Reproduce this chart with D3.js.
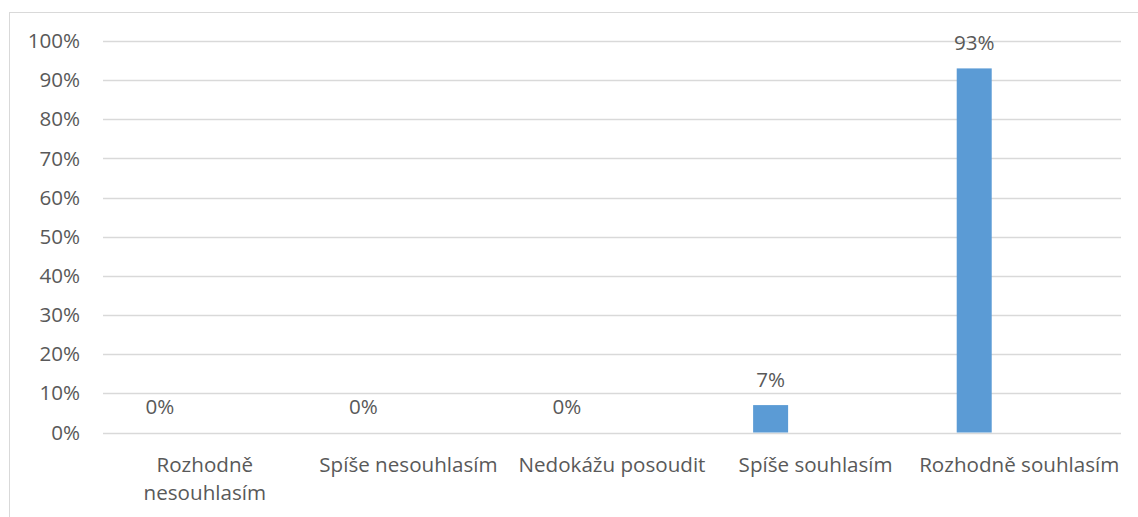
<!DOCTYPE html>
<html>
<head>
<meta charset="utf-8">
<script src="https://cdn.jsdelivr.net/npm/d3@7"></script>
<style>
  body { margin: 0; background: #fff; }
  text { font-family: "Open Sans", "Liberation Sans", sans-serif; fill: #595959; }
</style>
</head>
<body>
<div id="chart"></div>
<script>
// data
var categories = ["Rozhodně nesouhlasím", "Spíše nesouhlasím", "Nedokážu posoudit", "Spíše souhlasím", "Rozhodně souhlasím"];
var series = ["Řada 1", "Řada 2"];
var values = [0, 0, 0, 7, 93];
var yTicks = [0, 10, 20, 30, 40, 50, 60, 70, 80, 90, 100];

var W = 1138, H = 517;
var fontSize = "20.6px";
var margin = { top: 41, right: 17, bottom: 84.5, left: 103 };
var width = W - margin.left - margin.right;
var height = H - margin.top - margin.bottom;

var svg = d3.select("#chart").append("svg")
    .attr("width", W)
    .attr("height", H);

// outer chart frame
svg.append("rect")
    .attr("x", 9.5).attr("y", 12.5)
    .attr("width", W + 10).attr("height", H + 10)
    .attr("fill", "none")
    .attr("stroke", "#d9d9d9");

var g = svg.append("g")
    .attr("transform", "translate(" + margin.left + "," + margin.top + ")");

var x = d3.scaleBand().domain(categories).range([0, width]);
// second series is empty, so the visible bar sits left of the band centre
var x1 = d3.scaleBand().domain(series).range([0, x.bandwidth()])
    .paddingInner(0.611).paddingOuter(0.437);
var y = d3.scaleLinear().domain([0, 100]).range([height, 0]);

// gridlines
g.selectAll(".grid")
    .data(yTicks)
    .enter().append("line")
    .attr("x1", 0).attr("x2", width)
    .attr("y1", function(d) { return Math.round(y(d)) + 0.5; })
    .attr("y2", function(d) { return Math.round(y(d)) + 0.5; })
    .attr("stroke", "#d9d9d9")
    .attr("stroke-width", 1.3);

// y axis labels
var yAxis = g.append("g")
    .call(d3.axisLeft(y).tickValues(yTicks).tickSize(0).tickPadding(23)
        .tickFormat(function(d) { return d + "%"; }));
yAxis.select(".domain").remove();
yAxis.selectAll("text")
    .style("font-size", fontSize)
    .attr("fill", "#595959");

// bars
g.selectAll(".bar")
    .data(values)
    .enter().append("rect")
    .attr("class", "bar")
    .attr("x", function(d, i) { return x(categories[i]) + x1(series[0]); })
    .attr("width", x1.bandwidth())
    .attr("y", function(d) { return y(d); })
    .attr("height", function(d) { return height - y(d); })
    .attr("fill", "#5b9bd5");

// value labels
g.selectAll(".val")
    .data(values)
    .enter().append("text")
    .attr("x", function(d, i) { return x(categories[i]) + x1(series[0]) + x1.bandwidth() / 2; })
    .attr("y", function(d) { return y(d) - 18.5; })
    .attr("text-anchor", "middle")
    .style("font-size", fontSize)
    .text(function(d) { return d + "%"; });

// category labels
var xAxis = g.append("g")
    .attr("transform", "translate(0," + height + ")")
    .call(d3.axisBottom(x).tickSize(0).tickPadding(24.5));
xAxis.select(".domain").remove();
xAxis.selectAll("text")
    .style("font-size", fontSize)
    .attr("fill", "#595959")
    .call(wrap, x.step() - 2);

function wrap(text, maxW) {
  text.each(function() {
    var t = d3.select(this);
    var words = t.text().split(/\s+/);
    var yy = t.attr("y"), dy = parseFloat(t.attr("dy"));
    t.text(null);
    var line = [];
    var tspan = t.append("tspan").attr("x", 0).attr("y", yy).attr("dy", dy + "em");
    var n = 0;
    words.forEach(function(w) {
      line.push(w);
      tspan.text(line.join(" "));
      if (tspan.node().getComputedTextLength() > maxW && line.length > 1) {
        line.pop();
        tspan.text(line.join(" "));
        line = [w];
        n++;
        tspan = t.append("tspan").attr("x", 0).attr("y", yy)
            .attr("dy", (dy + n * 1.38) + "em").text(w);
      }
    });
  });
}
</script>
</body>
</html>
